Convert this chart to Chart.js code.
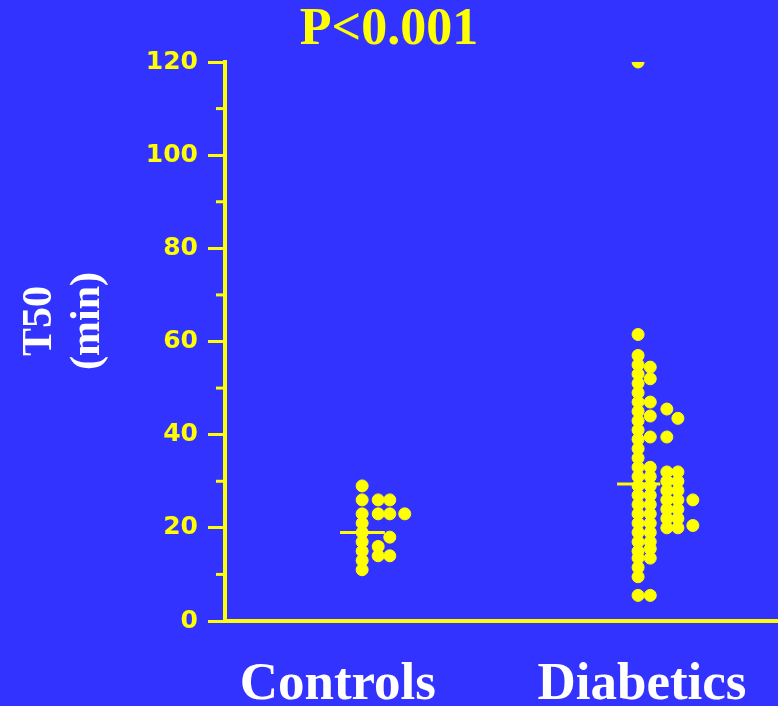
<!DOCTYPE html>
<html>
<head>
<meta charset="utf-8">
<script src="https://cdn.jsdelivr.net/npm/chart.js@4"></script>
<style>
  html, body { margin: 0; padding: 0; background: #3333ff; }
  #wrap { width: 778px; height: 706px; position: relative; }
</style>
</head>
<body>
<div id="wrap"><canvas id="myChart"></canvas></div>
<script>
// groups and summary
const groups = ['Controls', 'Diabetics'];
const medians = [19, 29.4];
const pTitle = 'P<0.001';
const yTitle = ['T50', '(min)'];
const yTicks = [0, 20, 40, 60, 80, 100, 120];

// T50 values (min), one array per column of dots
const controlsColA = [29, 26, 23, 21, 19, 17, 15, 13, 11];
const controlsColB = [26, 23, 16, 14];
const controlsColC = [26, 23, 18, 14];
const controlsColD = [23];

const diabeticsMain = [120, 61.5, 57, 55, 53, 51, 49, 47, 45, 43, 41, 39, 37, 35, 33, 31, 29, 27, 25, 23, 21, 19, 17, 15, 13.5, 11.5, 9.5, 5.5];
const diabeticsCol2 = [54.5, 52, 47, 44, 39.5, 33, 31, 29, 27, 25, 23, 21, 19, 17, 15.5, 13.5, 5.5];
const diabeticsCol3 = [45.5, 39.5, 32, 30, 28, 26, 24, 22, 20];
const diabeticsCol4 = [43.5, 32, 30, 28, 26, 24, 22, 20];
const diabeticsCol5 = [26, 20.5];

const yellow = '#ffff00';
const white = '#ffffff';

// horizontal placement on a 0..100 x scale
const groupCenters = [20.4, 75.4];
const columnX = {
    controls: [24.8, 27.7, 29.8, 32.5],
    diabetics: [74.7, 76.9, 79.9, 81.9, 84.6]
};
const medianSpan = [[20.8, 28.9], [70.9, 78.7]];

function toPoints(values, x) {
    return values.map(v => ({ x: x, y: v }));
}

const dotData = []
    .concat(toPoints(controlsColA, columnX.controls[0]))
    .concat(toPoints(controlsColB, columnX.controls[1]))
    .concat(toPoints(controlsColC, columnX.controls[2]))
    .concat(toPoints(controlsColD, columnX.controls[3]))
    .concat(toPoints(diabeticsMain, columnX.diabetics[0]))
    .concat(toPoints(diabeticsCol2, columnX.diabetics[1]))
    .concat(toPoints(diabeticsCol3, columnX.diabetics[2]))
    .concat(toPoints(diabeticsCol4, columnX.diabetics[3]))
    .concat(toPoints(diabeticsCol5, columnX.diabetics[4]));

const medianSets = medians.map((m, i) => ({
    type: 'line',
    data: [{ x: medianSpan[i][0], y: m }, { x: medianSpan[i][1], y: m }],
    borderColor: yellow,
    borderWidth: 3,
    pointRadius: 0,
    order: 2
}));

// minor ticks and rotated y label
const extras = {
    id: 'extras',
    afterDraw(chart) {
        const c = chart.ctx;
        const ys = chart.scales.y;
        const left = chart.chartArea.left;
        c.save();
        c.strokeStyle = yellow;
        c.lineWidth = 3;
        for (let v = 10; v < 120; v += 20) {
            const py = ys.getPixelForValue(v);
            c.beginPath();
            c.moveTo(left - 9, py);
            c.lineTo(left, py);
            c.stroke();
        }
        c.fillStyle = white;
        c.font = 'bold 42px "Liberation Serif", serif';
        c.textAlign = 'center';
        c.textBaseline = 'middle';
        c.translate(40, 321);
        c.rotate(-Math.PI / 2);
        c.fillText(yTitle[0], 0, 0);
        c.fillText(yTitle[1], 0, 48);
        c.restore();
    }
};

const ctx = document.getElementById('myChart');
const myChart = new Chart(ctx, {
    type: 'scatter',
    data: {
        datasets: [
            {
                data: dotData,
                backgroundColor: yellow,
                borderColor: yellow,
                borderWidth: 1,
                pointRadius: 6,
                pointHoverRadius: 6,
                order: 1
            }
        ].concat(medianSets)
    },
    options: {
        responsive: true,
        maintainAspectRatio: false,
        animation: false,
        layout: { autoPadding: false, padding: 0 },
        plugins: {
            legend: { display: false },
            tooltip: { enabled: false },
            title: {
                display: true,
                text: pTitle,
                color: yellow,
                font: { family: '"Liberation Serif", serif', size: 52, weight: 'bold', lineHeight: 1 },
                padding: { top: 5, bottom: 5 }
            }
        },
        scales: {
            x: {
                type: 'linear',
                min: 0,
                max: 100,
                afterFit: s => { s.height = 85; },
                afterBuildTicks: s => { s.ticks = groupCenters.map(v => ({ value: v })); },
                grid: { display: false },
                border: { color: yellow, width: 4 },
                ticks: {
                    autoSkip: false,
                    maxRotation: 0,
                    padding: 25,
                    color: white,
                    font: { family: '"Liberation Serif", serif', size: 53, weight: 'bold' },
                    callback: (v, i) => groups[i]
                }
            },
            y: {
                min: 0,
                max: 120,
                afterFit: s => { s.width = 225; },
                afterBuildTicks: s => { s.ticks = yTicks.map(v => ({ value: v })); },
                grid: {
                    drawOnChartArea: false,
                    drawTicks: true,
                    tickLength: 17,
                    tickWidth: 3,
                    tickColor: yellow
                },
                border: { color: yellow, width: 4 },
                ticks: {
                    padding: 10,
                    color: yellow,
                    font: { family: '"DejaVu Sans", sans-serif', size: 25, weight: 'bold' }
                }
            }
        }
    },
    plugins: [extras]
});
</script>
</body>
</html>
